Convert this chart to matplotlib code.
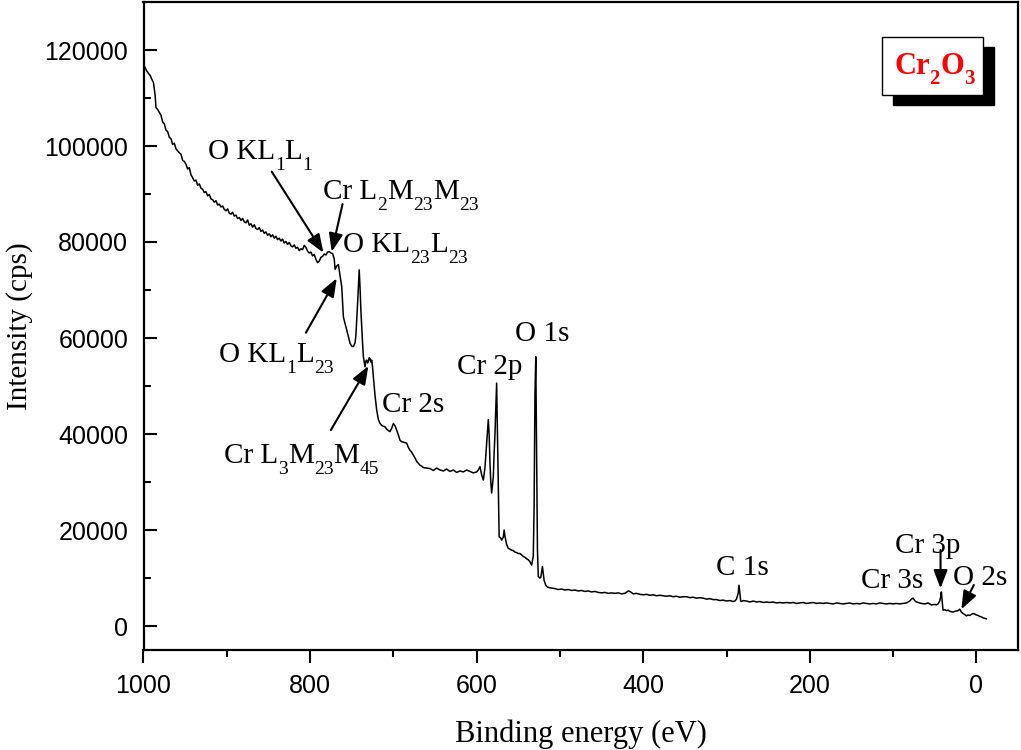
import matplotlib
matplotlib.use("Agg")
import matplotlib.pyplot as plt
from matplotlib.patches import Rectangle
from matplotlib.ticker import FixedLocator, FuncFormatter
from matplotlib.transforms import IdentityTransform

plt.rcParams['font.family'] = ['Liberation Serif', 'DejaVu Serif']

# ---------------- data ----------------
energy_hi = [1000, 998, 996, 994, 992, 990, 988, 986, 985, 983, 981, 979, 977, 975, 973, 971, 969, 967, 965, 963,
             961, 959, 957, 955, 953, 951, 949, 947, 945, 943, 941, 939, 937, 935, 933, 931, 929, 927, 925, 923,
             921, 919, 917, 915, 913, 911, 909, 907, 905, 903, 901, 899, 897, 895, 893, 891, 889, 887, 885, 883,
             881, 879, 877, 875, 873, 871, 869, 867, 865, 863, 861, 859, 857, 855, 853, 851, 849, 847, 845, 843,
             841, 839, 837, 835, 833, 831, 829, 827, 825, 823, 821, 819, 817, 815, 813, 811, 809, 807, 805, 803,
             801, 799, 797, 795, 793, 791, 789, 787, 785, 783, 781, 779, 777, 775, 773, 771]
counts_hi = [116900, 116300, 115600, 115100, 114700, 113900, 113200, 110500, 108000, 107600, 107000, 106400, 105000, 104600, 103300, 103000, 101800, 101500, 100300, 100600,
             99400, 99000, 98600, 98300, 97000, 96800, 96200, 95200, 95500, 94000, 93400, 92700, 92900, 91800, 92100, 91200, 91000, 90300, 90500, 89600,
             89900, 89000, 88800, 88300, 88600, 87700, 87900, 87300, 87500, 86800, 86500, 86900, 86000, 85800, 86200, 85400, 85600, 84900, 85100, 84500,
             84900, 84200, 84000, 84600, 83500, 83800, 83100, 83600, 82800, 82600, 83000, 82200, 82500, 81800, 82100, 81400, 81700, 81100, 81500, 80800,
             81200, 80500, 80800, 80200, 80600, 79800, 80100, 79500, 79900, 79200, 79000, 79400, 78700, 78900, 78200, 78600, 78400, 79300, 78900, 78100,
             77700, 77900, 77100, 77400, 76400, 75700, 76000, 76800, 77000, 77500, 77300, 77900, 78000, 77700, 77600, 76500]

energy_auger = [770, 768, 766, 764, 762, 760, 758, 756, 754, 752, 750, 748, 746, 745, 743, 741, 740, 739, 737, 736,
                734, 733, 732, 731, 730, 729, 728, 727, 726, 725, 724, 722, 720, 718, 716, 714, 712, 710, 708, 706,
                704, 702, 700, 698, 696, 694, 692, 690, 688, 686, 684, 682, 680, 678, 676, 674, 672, 670, 668, 666,
                664, 660, 656, 652, 648, 644, 640, 636, 632, 628, 624, 620, 616, 612, 608, 604, 600, 598, 596, 594]
counts_auger = [74300, 75000, 75300, 73000, 70700, 64400, 63000, 61700, 60300, 58900, 58300, 58200, 59000, 60500, 67000, 74200, 70500, 65800, 59000, 56100,
                54000, 55200, 55400, 54800, 55100, 55900, 55700, 55000, 55400, 54000, 51900, 48000, 45000, 43000, 42200, 41800, 41600, 41500, 41000, 40700,
                40500, 41200, 42200, 41700, 40800, 39800, 38700, 38400, 38300, 38200, 38100, 37200, 36600, 36200, 35600, 35000, 34300, 33900, 33500, 33300,
                33000, 32900, 32800, 32400, 32900, 32500, 32300, 32700, 32200, 32500, 32000, 32300, 32100, 32500, 32200, 31900, 32100, 32500, 33200, 31500]

energy_core = [592, 590, 588, 586, 585, 584, 583, 582, 580, 579, 578, 577, 576, 575, 574, 573, 571, 570, 568, 567,
               566, 564, 562, 560, 558, 556, 554, 552, 550, 548, 546, 544, 542, 540, 538, 536, 534, 532, 531, 530,
               529, 528, 527, 526, 524, 523, 521, 520, 519, 517, 515, 513, 510]
counts_core = [30400, 33000, 38000, 43000, 40000, 34000, 30000, 27700, 31000, 36000, 40000, 45500, 50600, 40000, 30000, 18600, 18300, 17900, 18500, 20000,
               18700, 17000, 16200, 16000, 15800, 15700, 15400, 15300, 15100, 15100, 14800, 14500, 14300, 14000, 13800, 13400, 12700, 14500, 25000, 48000,
               56100, 35000, 16000, 10300, 10000, 10100, 12400, 11000, 9500, 8500, 8100, 8000, 7900]

energy_lo = [506, 502, 498, 494, 490, 486, 482, 478, 474, 470, 466, 462, 458, 454, 450, 446, 442, 438, 434, 430,
             426, 422, 418, 416, 412, 408, 404, 400, 396, 392, 388, 384, 380, 376, 372, 368, 364, 360, 356, 352,
             348, 344, 340, 336, 332, 328, 324, 320, 316, 312, 308, 304, 300, 296, 292, 290, 288, 286, 285, 284,
             283, 282, 280, 276, 272, 268, 264, 260, 256, 252, 248, 244, 240, 236, 232, 228, 224, 220, 216, 212,
             208, 204, 200, 196, 192, 188, 184, 180, 176, 172, 168, 164, 160, 156, 152, 148, 144, 140, 136, 132,
             128, 124, 120, 116, 112, 108, 104, 100, 96, 92, 88, 84, 80, 78, 76, 74, 72, 70, 66, 62,
             58, 54, 50, 48, 46, 44, 43, 42, 41, 40, 38, 36, 34, 31, 28, 25, 22, 20, 18, 16,
             14, 12, 10, 8, 6, 4, 2, 0, -2, -4, -6, -8, -10, -12]
counts_lo = [7800, 7600, 7700, 7500, 7600, 7400, 7500, 7300, 7400, 7200, 7300, 7100, 7200, 7000, 6900, 7000, 6800, 6900, 6800, 6900,
             6700, 6800, 7300, 7200, 6700, 6800, 6600, 6500, 6600, 6400, 6500, 6300, 6400, 6300, 6200, 6300, 6100, 6200, 6000, 6100,
             6100, 5900, 6000, 5800, 5900, 5800, 5600, 5700, 5500, 5500, 5300, 5400, 5200, 5300, 5100, 5200, 5600, 6800, 8500, 7000,
             5200, 5100, 5300, 5200, 5000, 5200, 5000, 5100, 4900, 5000, 4900, 5000, 4800, 4900, 4800, 4900, 4800, 4900, 4700, 4800,
             4900, 4700, 4800, 4900, 4700, 4800, 4700, 4800, 4700, 4600, 4800, 4700, 4600, 4700, 4800, 4600, 4700, 4600, 4800, 4700,
             4600, 4700, 4600, 4800, 4700, 4600, 4700, 4600, 4700, 4600, 4700, 4800, 5200, 5600, 5800, 5300, 5000, 4900, 4700, 4600,
             4800, 4400, 4500, 4400, 4600, 5200, 6000, 7100, 5000, 3300, 3400, 3200, 3300, 3000, 2900, 3100, 3200, 3500, 2900, 2600,
             2400, 2100, 2300, 2200, 2400, 2600, 2500, 2300, 2200, 2000, 1900, 1700, 1600, 1500]

binding_energy = energy_hi + energy_auger + energy_core + energy_lo
intensity = counts_hi + counts_auger + counts_core + counts_lo

x_major = [1000, 800, 600, 400, 200, 0]
x_minor = [900, 700, 500, 300, 100]
y_major = [0, 20000, 40000, 60000, 80000, 100000, 120000]
y_minor = [10000, 30000, 50000, 70000, 90000, 110000]

# peak labels: pieces as (string, is_subscript), anchored at left baseline (x, y)
peak_labels = [
    ([("O KL", 0), ("1", 1), ("L", 0), ("1", 1)], 923, 97300),
    ([("Cr L", 0), ("2", 1), ("M", 0), ("23", 1), ("M", 0), ("23", 1)], 784, 88950),
    ([("O KL", 0), ("23", 1), ("L", 0), ("23", 1)], 760, 77900),
    ([("O KL", 0), ("1", 1), ("L", 0), ("23", 1)], 909, 55060),
    ([("Cr L", 0), ("3", 1), ("M", 0), ("23", 1), ("M", 0), ("45", 1)], 903, 33950),
    ([("Cr 2s", 0)], 714, 44650),
    ([("Cr 2p", 0)], 624, 52500),
    ([("O 1s", 0)], 554, 59440),
    ([("C 1s", 0)], 313, 10625),
    ([("Cr 3p", 0)], 98, 15150),
    ([("Cr 3s", 0)], 138, 7850),
    ([("O 2s", 0)], 28, 8540),
]
# arrows: (tail x, tail y, head x, head y)
arrows = [
    (846, 94650, 784, 77770),
    (761, 87900, 774, 77980),
    (805, 61100, 768, 72430),
    (775, 40830, 730, 54170),
    (43, 15830, 43, 7850),
    (3, 8540, 18, 3480),
]
sample_label = [("Cr", 0), ("2", 1), ("O", 0), ("3", 1)]

# ---------------- figure ----------------
W, H = 1021, 750
fig = plt.figure(figsize=(W / 100, H / 100), dpi=100)
ax = fig.add_axes([143.5 / W, 100 / H, (1018 - 143.5) / W, 648 / H])
renderer = fig.canvas.get_renderer()

ax.plot(binding_energy, intensity, color='black', lw=1.1)

ax.set_xlim(1000, -50)
ax.set_ylim(-5000, 130000)

ax.xaxis.set_major_locator(FixedLocator(x_major))
ax.xaxis.set_minor_locator(FixedLocator(x_minor))
ax.yaxis.set_major_locator(FixedLocator(y_major))
ax.yaxis.set_minor_locator(FixedLocator(y_minor))
ax.xaxis.set_major_formatter(FuncFormatter(lambda v, p: f"{int(v)}"))
ax.yaxis.set_major_formatter(FuncFormatter(lambda v, p: f"{int(v)}"))

ax.tick_params(axis='x', which='major', direction='out', length=9.5, width=1.5, pad=8)
ax.tick_params(axis='x', which='minor', direction='out', length=5, width=1.5)
ax.tick_params(axis='y', which='major', direction='in', length=9.5, width=1.5, pad=11)
ax.tick_params(axis='y', which='minor', direction='in', length=5, width=1.5)
for lab in ax.get_xticklabels() + ax.get_yticklabels():
    lab.set_fontfamily('Liberation Sans')
    lab.set_fontsize(18)
for s in ax.spines.values():
    s.set_linewidth(1.6)

ax.set_xlabel("Binding energy (eV)", fontsize=22, labelpad=15)
ax.set_ylabel("Intensity (cps)", fontsize=21, labelpad=8)


def draw_pieces(px, py, pieces, size, sub_size, drop, **kw):
    """Draw text pieces left to right starting at pixel (px, py) on the baseline."""
    for s, sub in pieces:
        fs = sub_size if sub else size
        yy = py - drop if sub else py
        t = fig.text(px, yy, s, transform=IdentityTransform(), fontsize=fs,
                     ha='left', va='baseline', **kw)
        bb = t.get_window_extent(renderer)
        px = bb.x1


px_per_pt = fig.dpi / 72.0
for pieces, x, y in peak_labels:
    X, Y = ax.transData.transform((x, y))
    draw_pieces(X, Y, pieces, 21, 14, 8 * px_per_pt)

for tx, ty, hx, hy in arrows:
    ax.annotate("", xy=(hx, hy), xytext=(tx, ty),
                arrowprops=dict(arrowstyle="-|>,head_length=0.65,head_width=0.25",
                                color='black', lw=1.5, mutation_scale=17,
                                shrinkA=0, shrinkB=0))

# sample label box with drop shadow
shadow = Rectangle((892.7 / W, 1 - 105 / H), 101 / W, 58.3 / H, transform=fig.transFigure,
                   facecolor='black', edgecolor='black', zorder=5)
box = Rectangle((882.3 / W, 1 - 95 / H), 101 / W, 58.3 / H, transform=fig.transFigure,
                facecolor='white', edgecolor='black', lw=1.0, zorder=6)
fig.add_artist(shadow)
fig.add_artist(box)
draw_pieces(894, H - 73.5, sample_label, 22, 15, 10, color='red', fontweight='bold', zorder=7)

fig.savefig("out.png", dpi=100)
